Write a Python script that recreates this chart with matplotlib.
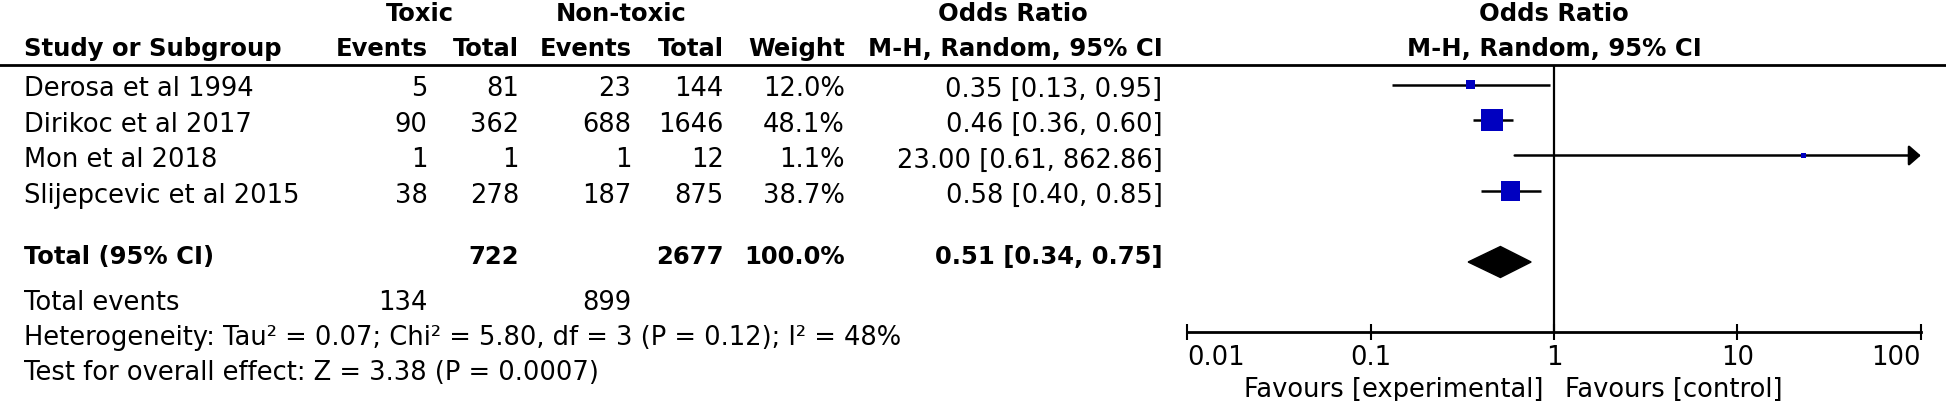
"""Forest plot: toxic vs non-toxic, odds ratio (M-H, random, 95% CI)."""

import numpy as np
import matplotlib
matplotlib.use("Agg")
import matplotlib.pyplot as plt
from matplotlib.patches import Polygon
from matplotlib.ticker import NullLocator

plt.rcParams["font.family"] = "DejaVu Sans"

# ---- data ----
studies = ["Derosa et al 1994", "Dirikoc et al 2017", "Mon et al 2018", "Slijepcevic et al 2015"]
tox_events = [5, 90, 1, 38]
tox_total = [81, 362, 1, 278]
non_events = [23, 688, 1, 187]
non_total = [144, 1646, 12, 875]
weights = [12.0, 48.1, 1.1, 38.7]
or_est = [0.35, 0.46, 23.00, 0.58]
ci_lo = [0.13, 0.36, 0.61, 0.40]
ci_hi = [0.95, 0.60, 862.86, 0.85]

total_tox, total_non, total_weight = 722, 2677, 100.0
pooled_or, pooled_lo, pooled_hi = 0.51, 0.34, 0.75
events_tox, events_non = 134, 899
heterogeneity = "Heterogeneity: Tau² = 0.07; Chi² = 5.80, df = 3 (P = 0.12); I² = 48%"
overall = "Test for overall effect: Z = 3.38 (P = 0.0007)"

tick_vals = [0.01, 0.1, 1, 10, 100]
tick_labels = ["0.01", "0.1", "1", "10", "100"]
favours_left = "Favours [experimental]"
favours_right = "Favours [control]"

# ---- layout (pixels) ----
W, H = 1946, 402
FS, FSB = 18.5, 17.5
BLUE = "#0000C0"
X0, X1 = 1187.3, 1920.8          # 0.01 .. 100 on the log axis
Y_TOP, Y_AX = 65.7, 333.3        # header rule, axis line
ROW0, PITCH = 85.5, 35.5         # marker centre of first study, row pitch

# column anchors (right edges unless noted)
C_STUDY = 24
C_EV1, C_TOT1, C_EV2, C_TOT2, C_W, C_OR = 427.5, 519, 631.5, 723.5, 845, 1162.5

fig = plt.figure(figsize=(W / 100, H / 100), dpi=100)
fig.patch.set_facecolor("white")

ax_t = fig.add_axes([0, 0, 1, 1])
ax_t.set_xlim(0, W)
ax_t.set_ylim(H, 0)
ax_t.axis("off")


def txt(x, y, s, ha="right", bold=False):
    ax_t.text(x, y, s, ha=ha, va="baseline", fontsize=FSB if bold else FS,
              fontweight="bold" if bold else "normal", color="black")


# headers
txt(420, 21, "Toxic", ha="center", bold=True)
txt(621.6, 21, "Non-toxic", ha="center", bold=True)
txt(1013, 21, "Odds Ratio", ha="center", bold=True)
txt(1554, 21, "Odds Ratio", ha="center", bold=True)
txt(C_STUDY, 56, "Study or Subgroup", ha="left", bold=True)
txt(C_EV1, 56, "Events", bold=True)
txt(C_TOT1, 56, "Total", bold=True)
txt(C_EV2, 56, "Events", bold=True)
txt(C_TOT2, 56, "Total", bold=True)
txt(C_W, 56, "Weight", bold=True)
txt(C_OR, 56, "M-H, Random, 95% CI", bold=True)
txt(1554, 56, "M-H, Random, 95% CI", ha="center", bold=True)
ax_t.axhline(Y_TOP, color="black", lw=2.0)

# study rows
for i, name in enumerate(studies):
    yb = ROW0 + PITCH * i + 11
    txt(C_STUDY, yb, name, ha="left")
    txt(C_EV1, yb, str(tox_events[i]))
    txt(C_TOT1, yb, str(tox_total[i]))
    txt(C_EV2, yb, str(non_events[i]))
    txt(C_TOT2, yb, str(non_total[i]))
    txt(C_W, yb, f"{weights[i]:.1f}%")
    txt(C_OR, yb, f"{or_est[i]:.2f} [{ci_lo[i]:.2f}, {ci_hi[i]:.2f}]")

# total rows
txt(C_STUDY, 264, "Total (95% CI)", ha="left", bold=True)
txt(C_TOT1, 264, str(total_tox), bold=True)
txt(C_TOT2, 264, str(total_non), bold=True)
txt(C_W, 264, f"{total_weight:.1f}%", bold=True)
txt(C_OR, 264, f"{pooled_or:.2f} [{pooled_lo:.2f}, {pooled_hi:.2f}]", bold=True)
txt(C_STUDY, 310.5, "Total events", ha="left")
txt(C_EV1, 310.5, str(events_tox))
txt(C_EV2, 310.5, str(events_non))
txt(C_STUDY, 345, heterogeneity, ha="left")
txt(C_STUDY, 380, overall, ha="left")

txt(1543, 397, favours_left)
txt(1565, 397, favours_right, ha="left")

# ---- forest panel ----
ax = fig.add_axes([X0 / W, 1 - Y_AX / H, (X1 - X0) / W, (Y_AX - Y_TOP) / H])
ax.patch.set_visible(False)
ax.set_xscale("log")
xmin, xmax = tick_vals[0], tick_vals[-1]
ax.set_xlim(xmin, xmax)
ax.set_ylim((Y_AX - ROW0) / PITCH, (Y_TOP - ROW0) / PITCH)

ax.axvline(1, color="black", lw=1.6, zorder=1)

rows = np.arange(len(studies))
for y, lo, hi in zip(rows, ci_lo, ci_hi):
    lo_d = max(lo, xmin)
    if hi > xmax:
        # CI runs off the scale: arrow to the axis end
        ax.annotate("", xy=(xmax, y), xytext=(lo_d, y),
                    arrowprops=dict(arrowstyle="-|>,head_length=0.55,head_width=0.48",
                                    mutation_scale=13, lw=1.8, color="black",
                                    shrinkA=0, shrinkB=0), zorder=2)
    else:
        ax.hlines(y, lo_d, hi, color="black", lw=1.8, zorder=2)

side_px = np.maximum(5, 3.75 * np.sqrt(np.array(weights)) - 3.7)
ax.scatter(or_est, rows, marker="s", s=(side_px * 0.72) ** 2, color=BLUE,
           linewidths=0, zorder=3)

# pooled diamond
yd = len(studies) + 1
hh = 15.5 / PITCH
ax.add_patch(Polygon([(pooled_lo, yd), (pooled_or, yd - hh), (pooled_hi, yd),
                      (pooled_or, yd + hh)], closed=True, color="black", zorder=3))

for s in ["top", "left", "right"]:
    ax.spines[s].set_visible(False)
ax.spines["bottom"].set_linewidth(2.0)
ax.set_yticks([])
ax.set_xticks(tick_vals)
ax.set_xticklabels(tick_labels, fontsize=FS)
ax.xaxis.set_minor_locator(NullLocator())
ax.tick_params(axis="x", direction="inout", length=11.5, width=1.5, pad=2.7)
labels = ax.get_xticklabels()
labels[0].set_ha("left")
labels[-1].set_ha("right")

fig.savefig("out.png", dpi=100)
plt.close(fig)
